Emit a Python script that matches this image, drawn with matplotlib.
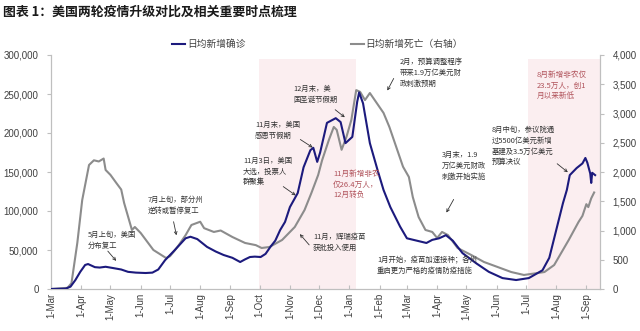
import matplotlib
matplotlib.use("Agg")
import numpy as np
import pandas as pd
import matplotlib.pyplot as plt
from matplotlib.patches import FancyArrowPatch
from matplotlib.ticker import StrMethodFormatter

plt.rcParams['font.family'] = ['Noto Sans CJK SC', 'DejaVu Sans']

# daily new cases, 7-day average (left axis)
conf_dates = ['2020-03-01', '2020-03-16', '2020-03-21', '2020-03-26', '2020-03-31', '2020-04-05',
              '2020-04-08', '2020-04-15', '2020-04-20', '2020-04-26', '2020-05-03', '2020-05-12',
              '2020-05-19', '2020-05-27', '2020-06-06', '2020-06-13', '2020-06-19', '2020-06-26',
              '2020-07-06', '2020-07-17', '2020-07-22', '2020-07-29', '2020-08-08', '2020-08-17',
              '2020-08-25', '2020-09-03', '2020-09-11', '2020-09-16', '2020-09-21', '2020-09-26',
              '2020-10-02', '2020-10-07', '2020-10-12', '2020-10-17', '2020-10-22', '2020-10-27',
              '2020-11-01', '2020-11-09', '2020-11-15', '2020-11-22', '2020-11-25', '2020-11-29',
              '2020-12-02', '2020-12-09', '2020-12-18', '2020-12-23', '2020-12-28', '2021-01-04',
              '2021-01-09', '2021-01-11', '2021-01-15', '2021-01-22', '2021-01-30', '2021-02-05',
              '2021-02-12', '2021-02-22', '2021-03-01', '2021-03-11', '2021-03-21', '2021-03-27',
              '2021-04-03', '2021-04-10', '2021-04-17', '2021-04-27', '2021-05-11', '2021-05-24',
              '2021-06-07', '2021-06-21', '2021-07-04', '2021-07-18', '2021-07-25', '2021-07-30',
              '2021-08-04', '2021-08-08', '2021-08-12', '2021-08-15', '2021-08-22', '2021-08-28',
              '2021-08-31', '2021-09-02', '2021-09-05', '2021-09-06', '2021-09-07', '2021-09-10']
conf_vals = [0, 500, 3000, 11500, 22000, 30800,
             32000, 28000, 27500, 28500, 27000, 25000,
             22000, 21000, 20500, 21000, 25000, 37000,
             50000, 65000, 67000, 64000, 54000, 48000,
             43600, 40000, 34600, 38000, 41000, 41500,
             41000, 45000, 54000, 62000, 75600, 86000,
             105000, 123000, 156000, 178000, 181000, 163000,
             175000, 213000, 219000, 214000, 187000, 195000,
             240000, 252000, 238000, 187000, 152000, 127000,
             105000, 80000, 65000, 62000, 59000, 63000,
             65000, 69000, 62000, 46000, 33000, 22000,
             14000, 11500, 14000, 24000, 40000, 65000,
             90000, 110000, 127000, 146000, 155000, 161000,
             168000, 162000, 148000, 136000, 149000, 146000]

# daily new deaths, 7-day average (right axis)
death_dates = ['2020-03-01', '2020-03-18', '2020-03-22', '2020-03-28', '2020-04-02', '2020-04-09',
               '2020-04-14', '2020-04-19', '2020-04-24', '2020-04-26', '2020-05-01', '2020-05-07',
               '2020-05-12', '2020-05-15', '2020-05-23', '2020-05-26', '2020-06-01', '2020-06-14',
               '2020-06-27', '2020-07-01', '2020-07-05', '2020-07-10', '2020-07-17', '2020-07-23',
               '2020-08-01', '2020-08-05', '2020-08-15', '2020-08-22', '2020-09-03', '2020-09-16',
               '2020-09-27', '2020-10-03', '2020-10-11', '2020-10-24', '2020-11-06', '2020-11-16',
               '2020-11-23', '2020-11-30', '2020-12-04', '2020-12-11', '2020-12-16', '2020-12-19',
               '2020-12-24', '2020-12-29', '2021-01-03', '2021-01-08', '2021-01-12', '2021-01-17',
               '2021-01-22', '2021-01-29', '2021-02-05', '2021-02-11', '2021-02-18', '2021-02-25',
               '2021-03-03', '2021-03-07', '2021-03-10', '2021-03-13', '2021-03-20', '2021-03-27',
               '2021-04-01', '2021-04-06', '2021-04-12', '2021-04-22', '2021-05-06', '2021-05-19',
               '2021-06-02', '2021-06-16', '2021-06-29', '2021-07-13', '2021-07-20', '2021-07-30',
               '2021-08-14', '2021-08-24', '2021-08-28', '2021-09-01', '2021-09-03', '2021-09-06',
               '2021-09-09']
death_vals = [0, 20, 100, 790, 1520, 2120,
              2200, 2180, 2230, 2035, 1950, 1812,
              1700, 1470, 1009, 1060, 957, 667,
              530, 560, 640, 750, 920, 1094,
              1150, 1040, 975, 1000, 889, 787,
              750, 701, 718, 838, 1060, 1350,
              1640, 1950, 2200, 2550, 2770, 2720,
              2380, 2600, 2890, 3400, 3370, 3230,
              3350, 3180, 3010, 2770, 2430, 2090,
              1915, 1573, 1400, 1230, 1009, 975,
              872, 975, 923, 700, 581, 462,
              376, 290, 240, 273, 290, 410,
              840, 1146, 1250, 1450, 1400, 1550,
              1650]

tick_dates = pd.date_range('2020-03-01', '2021-09-01', freq='MS')
tick_labels = ['1-' + d.strftime('%b') for d in tick_dates]

shade_spans = [('2020-09-30', '2021-01-08'), ('2021-07-03', '2021-09-16')]

navy = '#1c1a7d'
grey = '#8c8c8c'
red = '#b0525a'

fig = plt.figure(figsize=(6.4, 3.31), dpi=100)
ax = fig.add_axes([51 / 640, 42 / 331, 549 / 640, 234 / 331])
ax2 = ax.twinx()

# shading goes on the lower (right-axis) layer so both lines sit on top of it
for a, b in shade_spans:
    ax2.axvspan(pd.Timestamp(a), pd.Timestamp(b), ymin=0, ymax=0.985, color='#fbeef0', lw=0, zorder=0)

l2, = ax2.plot(pd.to_datetime(death_dates), death_vals, color=grey, lw=1.5, zorder=2)
l1, = ax.plot(pd.to_datetime(conf_dates), conf_vals, color=navy, lw=1.5, zorder=3)
ax.set_zorder(ax2.get_zorder() + 1)
ax.patch.set_visible(False)

ax.set_xlim(pd.Timestamp('2020-03-01'), pd.Timestamp('2021-09-15'))
ax.set_ylim(0, 300000)
ax2.set_ylim(0, 4000)
ax.set_yticks(np.arange(0, 300001, 50000))
ax2.set_yticks(np.arange(0, 4001, 500))
ax.yaxis.set_major_formatter(StrMethodFormatter('{x:,.0f}'))
ax2.yaxis.set_major_formatter(StrMethodFormatter('{x:,.0f}'))
ax.set_xticks(tick_dates)
ax.set_xticklabels(tick_labels, rotation=90, family='Liberation Sans', fontsize=7, color='#404040')

for a in (ax, ax2):
    a.spines['top'].set_visible(False)
    for s in ('left', 'right', 'bottom'):
        a.spines[s].set_color('#bfbfbf')
        a.spines[s].set_linewidth(0.8)
    a.tick_params(axis='y', length=3, color='#bfbfbf', labelsize=7, labelcolor='#404040', pad=6)
    for lab in a.get_yticklabels():
        lab.set_family('Liberation Sans')
ax.tick_params(axis='x', direction='in', length=3, color='#bfbfbf', pad=3)

fig.text(3 / 640, 1 - 12 / 331, '图表 1：美国两轮疫情升级对比及相关重要时点梳理',
         fontsize=9.3, fontweight='bold', va='center', ha='left', color='#1a1a1a')

ax.legend([l1, l2], ['日均新增确诊', '日均新增死亡（右轴）'], ncol=2, frameon=False,
          loc='center left', bbox_to_anchor=(172 / 640, 1 - 44 / 331),
          bbox_transform=fig.transFigure, borderpad=0, borderaxespad=0,
          handlelength=1.35, handletextpad=0.2, columnspacing=10.8,
          prop={'size': 7}, labelcolor='#404040')


def fp(x, y):
    return (x / 640, 1 - y / 331)


notes = [
    ('5月上旬，美国\n分布复工', (88, 231), (106, 249), (118, 263)),
    ('7月上旬，部分州\n逆转或暂停复工', (148, 196), (173, 219), (177, 238)),
    ('11月3日，美国\n大选，投票人\n群聚集', (243, 157), (281, 185), (298, 197)),
    ('11月末，美国\n感恩节假期', (255, 121), (298, 138), (315, 149)),
    ('12月末，美\n国圣诞节假期', (293, 85), (333, 108), (347, 119)),
    ('11月，辉瑞疫苗\n获批投入使用', (313, 233), (311, 247), (298, 232)),
    ('2月，预算调整程序\n带来1.9万亿美元财\n政刺激预期', (400, 58), (395, 76), (386, 93)),
    ('3月末，1.9\n万亿美元财政\n刺激开始实施', (442, 151), (455, 197), (445, 215)),
    ('8月中旬，参议院通\n过5500亿美元新增\n基建及3.5万亿美元\n预算决议', (492, 126), (555, 162), (570, 174)),
    ('1月开始，疫苗加速接种；各州\n重启更为严格的疫情防疫措施', (377, 256), None, None),
]
for txt, tpos, a0, a1 in notes:
    fig.text(*fp(*tpos), txt, fontsize=5.3, va='top', ha='left', color='#333333', linespacing=1.45)
    if a0 is not None:
        fig.add_artist(FancyArrowPatch(fp(*a0), fp(*a1), transform=fig.transFigure,
                                       arrowstyle='->', mutation_scale=5, lw=0.6, color='#333333'))

red_notes = [
    ('11月新增非农\n仅26.4万人，\n12月转负', (333, 170)),
    ('8月新增非农仅\n23.5万人，创1\n月以来新低', (537, 71)),
]
for txt, tpos in red_notes:
    fig.text(*fp(*tpos), txt, fontsize=5.5, va='top', ha='left', color=red, linespacing=1.45)

fig.savefig('out.png', dpi=100)
